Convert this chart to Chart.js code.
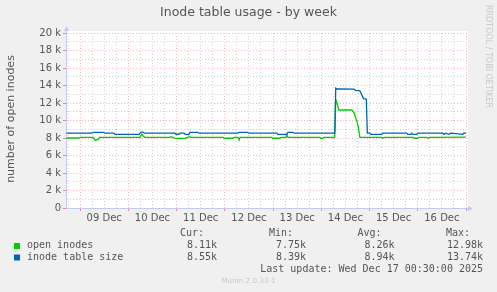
<!DOCTYPE html>
<html>
<head>
<meta charset="utf-8">
<title>Inode table usage - by week</title>
<script src="https://cdn.jsdelivr.net/npm/chart.js@4.4.1/dist/chart.umd.min.js"></script>
<style>
  html, body { margin: 0; padding: 0; background: #f0f0f0; }
  #wrap { width: 497px; height: 292px; position: relative; }
</style>
</head>
<body>
<div id="wrap"><canvas id="inodeChart"></canvas></div>
<script>
// x values are hours since 09 Dec 00:00
const openHours = [-6.8, -1.0, 0.0, 6.5, 7.5, 9.0, 9.6, 29.8, 30.8, 31.5, 32.3, 44.7, 45.2, 46.2, 47.2, 52.2,
    53.0, 54.7, 55.2, 71.1, 71.6, 76.0, 76.5, 78.6, 79.1, 79.6, 95.4, 95.9, 99.4, 99.9, 102.4, 102.9, 103.4,
    119.3, 119.8, 120.8, 121.3, 126.7, 127.2, 127.7, 128.7, 135.2, 136.2, 137.7, 138.4, 139.2, 150.0, 150.5,
    151.5, 165.8, 166.3, 168.0, 168.5, 172.4, 172.9, 174.0, 192.0];
const openValues = [8000, 8000, 8080, 8080, 7750, 7800, 8080, 8080, 8460, 8200, 8080, 8080, 8150, 8080, 7950, 7950,
    8050, 8150, 8080, 8080, 7970, 7970, 8080, 8080, 7770, 8080, 8080, 7970, 7970, 8080, 8080, 8340, 8080,
    8080, 7970, 7970, 8080, 8080, 12400, 12100, 11200, 11200, 10900, 9900, 9300, 8080, 8080, 7970,
    8080, 8080, 7970, 7970, 8080, 8080, 7970, 8080, 8110];

const tableHours = [-6.8, 6.0, 6.5, 11.9, 12.4, 16.9, 17.4, 29.3, 30.3, 31.3, 32.0, 47.2, 47.7, 49.2, 49.7, 51.7,
    52.2, 54.2, 54.7, 58.6, 59.1, 78.6, 79.1, 83.5, 84.0, 97.9, 98.4, 102.9, 103.4, 105.9, 106.4, 126.7,
    127.2, 128.0, 136.2, 137.0, 139.2, 140.2, 141.0, 142.4, 142.9, 144.1, 144.6, 150.1, 150.6, 162.5, 163.0,
    164.5, 165.0, 165.5, 167.5, 168.0, 180.4, 181.0, 181.9, 183.4, 184.4, 190.4, 191.0, 192.0];
const tableValues = [8550, 8550, 8650, 8650, 8550, 8550, 8420, 8420, 8680, 8680, 8550, 8550, 8430, 8430, 8550, 8550,
    8420, 8420, 8650, 8650, 8550, 8550, 8650, 8650, 8550, 8550, 8420, 8420, 8650, 8650, 8550, 8550,
    13700, 13600, 13580, 13450, 13400, 12900, 12500, 12450, 8550, 8550, 8420, 8420, 8550, 8550, 8420,
    8420, 8550, 8420, 8420, 8550, 8550, 8420, 8550, 8420, 8550, 8420, 8550, 8550];

const xTickLabels = ["09 Dec", "10 Dec", "11 Dec", "12 Dec", "13 Dec", "14 Dec", "15 Dec", "16 Dec"];
const yTickLabels = ["0", "2 k", "4 k", "6 k", "8 k", "10 k", "12 k", "14 k", "16 k", "18 k", "20 k"];

const seriesNames = ["open inodes", "inode table size"];
const statLabels = ["Cur:", "Min:", "Avg:", "Max:"];
const openStats = ["8.11k", "7.75k", "8.26k", "12.98k"];
const tableStats = ["8.55k", "8.39k", "8.94k", "13.74k"];

const GREEN = "#00cc00";
const BLUE = "#0066b3";
const TEXT = "#555555";
const AXIS = "#c4c9ef";
const MAJOR = "rgba(255, 0, 0, 0.3)";
const MINOR = "rgba(140, 140, 140, 0.4)";

const toPoints = (xs, ys) => xs.map((x, i) => ({ x: x, y: ys[i] }));

const muninPlugin = {
    id: "munin",
    beforeDraw(chart) {
        const { ctx, chartArea: a } = chart;
        ctx.save();
        ctx.fillStyle = "#f0f0f0";
        ctx.fillRect(0, 0, chart.width, chart.height);
        ctx.fillStyle = "#ffffff";
        ctx.fillRect(a.left, a.top - 2, a.right - a.left + 2, a.bottom - a.top + 2);
        ctx.restore();
    },
    afterDraw(chart) {
        const { ctx, chartArea: a } = chart;
        ctx.save();

        // axis arrows
        ctx.strokeStyle = AXIS;
        ctx.fillStyle = AXIS;
        ctx.lineWidth = 1;
        ctx.beginPath();
        ctx.moveTo(a.left + 0.5, a.top);
        ctx.lineTo(a.left + 0.5, a.top - 3);
        ctx.moveTo(a.right, a.bottom + 0.5);
        ctx.lineTo(a.right + 3, a.bottom + 0.5);
        ctx.stroke();
        ctx.beginPath();
        ctx.moveTo(a.left - 2, a.top - 2);
        ctx.lineTo(a.left + 3, a.top - 2);
        ctx.lineTo(a.left + 0.5, a.top - 7);
        ctx.closePath();
        ctx.fill();
        ctx.beginPath();
        ctx.moveTo(a.right + 2, a.bottom - 2);
        ctx.lineTo(a.right + 2, a.bottom + 3);
        ctx.lineTo(a.right + 7, a.bottom + 0.5);
        ctx.closePath();
        ctx.fill();

        // title
        ctx.fillStyle = TEXT;
        ctx.textBaseline = "middle";
        ctx.textAlign = "center";
        ctx.font = "12.5px 'DejaVu Sans'";
        ctx.fillText("Inode table usage - by week", 248.5, 13);

        // y axis title
        ctx.save();
        ctx.translate(11, 119);
        ctx.rotate(-Math.PI / 2);
        ctx.font = "11px 'DejaVu Sans'";
        ctx.fillText("number of open inodes", 0, 0);
        ctx.restore();

        // watermark
        ctx.save();
        ctx.translate(488.5, 56.5);
        ctx.rotate(Math.PI / 2);
        ctx.fillStyle = "#c8c8c8";
        ctx.font = "8px 'DejaVu Sans'";
        ctx.fillText("RRDTOOL / TOBI OETIKER", 0, 0);
        ctx.restore();

        // legend
        const colRight = [217, 306, 394.5, 483];
        ctx.font = "10px 'DejaVu Sans Mono'";
        ctx.fillStyle = TEXT;
        ctx.textAlign = "right";
        statLabels.forEach((s, i) => ctx.fillText(s, colRight[i] - 13, 233.5));
        openStats.forEach((s, i) => ctx.fillText(s, colRight[i], 245.5));
        tableStats.forEach((s, i) => ctx.fillText(s, colRight[i], 257.5));
        ctx.fillText("Last update: Wed Dec 17 00:30:00 2025", 483, 269.5);

        ctx.textAlign = "left";
        ctx.fillText(seriesNames[0], 27, 245.5);
        ctx.fillText(seriesNames[1], 27, 257.5);
        ctx.fillStyle = GREEN;
        ctx.fillRect(14, 243, 6, 6);
        ctx.fillStyle = BLUE;
        ctx.fillRect(14, 254.5, 6, 6);

        ctx.fillStyle = "#c8c8c8";
        ctx.textAlign = "center";
        ctx.font = "7.2px 'DejaVu Sans'";
        ctx.fillText("Munin 2.0.33-1", 248.5, 281);

        ctx.restore();
    },
};

Chart.defaults.font.family = "'DejaVu Sans', sans-serif";
Chart.defaults.font.size = 10;
Chart.defaults.color = TEXT;

new Chart(document.getElementById("inodeChart"), {
    type: "line",
    data: {
        datasets: [
            {
                label: seriesNames[0],
                data: toPoints(openHours, openValues),
                borderColor: GREEN,
                borderWidth: 1.3,
                pointRadius: 0,
                tension: 0,
                fill: false,
                order: 1,
            },
            {
                label: seriesNames[1],
                data: toPoints(tableHours, tableValues),
                borderColor: BLUE,
                borderWidth: 1.3,
                pointRadius: 0,
                tension: 0,
                fill: false,
                order: 0,
            },
        ],
    },
    options: {
        responsive: true,
        maintainAspectRatio: false,
        animation: false,
        events: [],
        layout: { padding: { left: 0, right: 31, top: 33, bottom: 64 } },
        plugins: {
            legend: { display: false },
            tooltip: { enabled: false },
            title: { display: false },
        },
        scales: {
            x: {
                type: "linear",
                min: -7,
                max: 192,
                afterBuildTicks(scale) {
                    const ticks = [];
                    for (let h = -6; h <= 192; h += 6) ticks.push({ value: h });
                    scale.ticks = ticks;
                },
                afterFit(scale) { scale.height = 20; },
                ticks: {
                    autoSkip: false,
                    maxRotation: 0,
                    padding: 1,
                    color: TEXT,
                    callback(value) {
                        const i = (value - 12) / 24;
                        return Number.isInteger(i) && xTickLabels[i] ? xTickLabels[i] : "";
                    },
                },
                grid: {
                    lineWidth: 1,
                    color: (c) => (c.tick && c.tick.value % 24 === 0 ? MAJOR : MINOR),
                    tickLength: 3,
                    tickColor: (c) => (c.tick && c.tick.value % 24 === 0 ? "rgba(255, 0, 0, 0.45)" : "rgba(0,0,0,0)"),
                },
                border: { display: true, color: AXIS, width: 1, dash: [1, 2] },
            },
            y: {
                type: "linear",
                min: 0,
                max: 20000,
                afterFit(scale) { scale.width = 66; },
                ticks: {
                    stepSize: 1000,
                    autoSkip: false,
                    padding: 2,
                    color: TEXT,
                    callback(value) {
                        return value % 2000 === 0 ? yTickLabels[value / 2000] : "";
                    },
                },
                grid: {
                    lineWidth: 1,
                    color: (c) => (c.tick && c.tick.value % 2000 === 0 ? MAJOR : MINOR),
                    tickLength: 3,
                    tickColor: (c) => (c.tick && c.tick.value % 2000 === 0 ? "rgba(255, 0, 0, 0.45)" : "rgba(0,0,0,0)"),
                },
                border: { display: true, color: AXIS, width: 1, dash: [1, 2] },
            },
        },
    },
    plugins: [muninPlugin],
});
</script>
</body>
</html>
